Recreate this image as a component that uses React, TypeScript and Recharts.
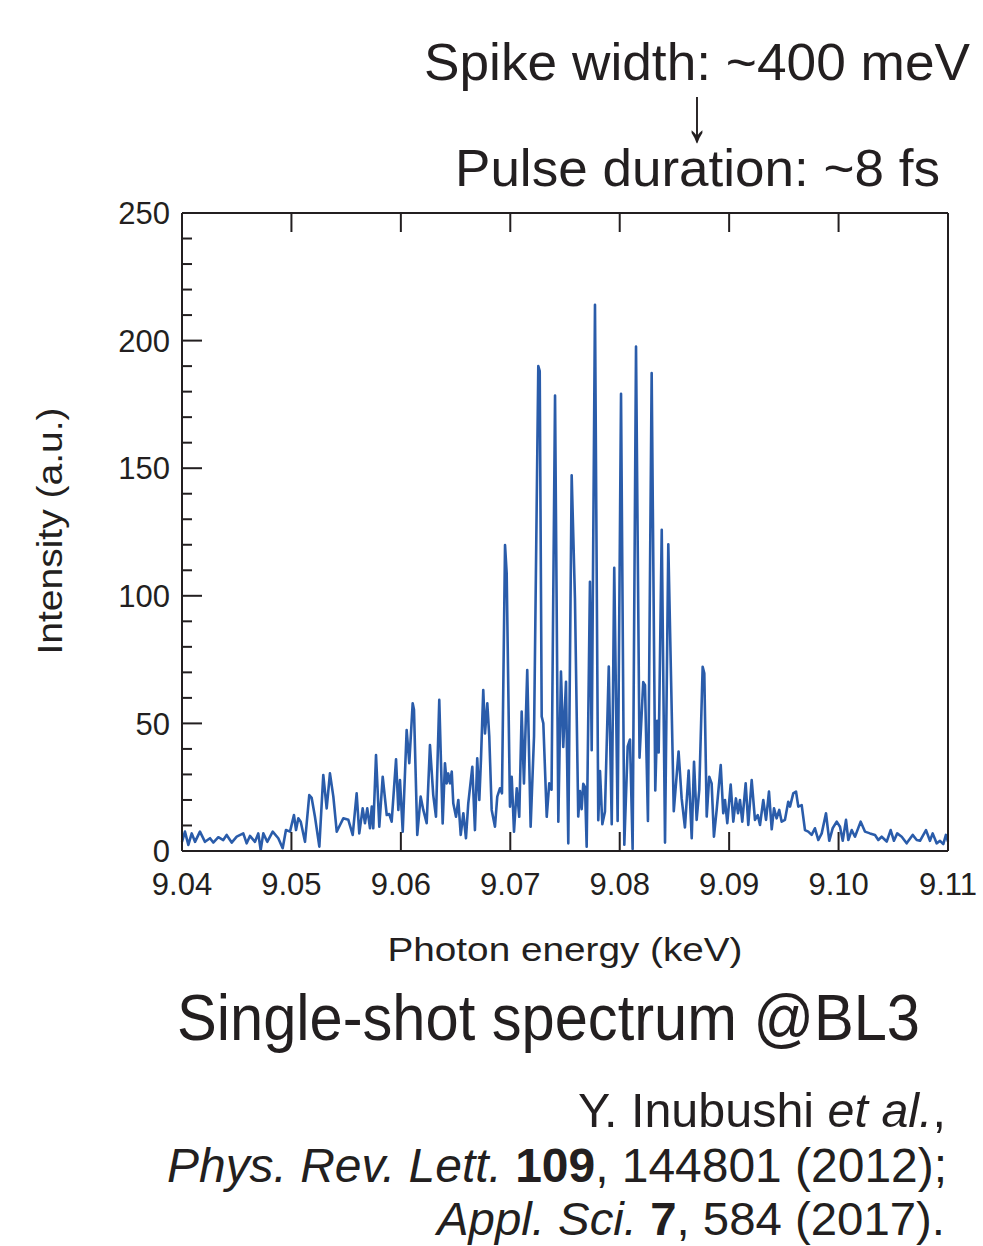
import { LineChart, Line, XAxis, YAxis } from 'recharts'

// single-shot spectrum, keV vs a.u.
const energy = [
  9.04, 9.04027, 9.04058, 9.04089, 9.04119, 9.04164, 9.0421, 9.04256, 9.04286, 9.04332,
  9.04377, 9.04408, 9.04454, 9.045, 9.0456, 9.04591, 9.04621, 9.04667, 9.04697, 9.04719,
  9.04743, 9.04779, 9.04829, 9.0488, 9.0492, 9.0495, 9.04987, 9.05023, 9.05042, 9.05063,
  9.05085, 9.05124, 9.05163, 9.05185, 9.05215, 9.05255, 9.05291, 9.05322, 9.05352, 9.05383,
  9.05414, 9.05444, 9.05474, 9.0552, 9.0556, 9.05596, 9.0562, 9.05651, 9.05672, 9.05693,
  9.05718, 9.05734, 9.05748, 9.05773, 9.05803, 9.05834, 9.05871, 9.05894, 9.05916, 9.05956,
  9.05977, 9.05992, 9.06017, 9.06053, 9.06077, 9.06108, 9.0612, 9.0615, 9.06181, 9.06205,
  9.06236, 9.06266, 9.06296, 9.06321, 9.06351, 9.06382, 9.06403, 9.06419, 9.06433, 9.06449,
  9.06465, 9.06479, 9.06504, 9.06525, 9.06547, 9.06571, 9.06595, 9.06616, 9.06653, 9.06677,
  9.06698, 9.06717, 9.06732, 9.06753, 9.06769, 9.0679, 9.06808, 9.0683, 9.0686, 9.06881,
  9.06906, 9.06924, 9.06952, 9.06967, 9.06997, 9.07013, 9.07034, 9.07059, 9.07082, 9.07104,
  9.07125, 9.07155, 9.07186, 9.07217, 9.07256, 9.07269, 9.07287, 9.07302, 9.07333, 9.07356,
  9.07377, 9.07409, 9.07439, 9.07463, 9.07484, 9.07509, 9.0753, 9.07561, 9.07591, 9.07621,
  9.07637, 9.07652, 9.07667, 9.07683, 9.07698, 9.07728, 9.07744, 9.07774, 9.07804, 9.0782,
  9.07841, 9.07865, 9.079, 9.07927, 9.0795, 9.07981, 9.08012, 9.08042, 9.08073, 9.08094,
  9.08118, 9.08149, 9.08181, 9.08215, 9.08231, 9.08258, 9.08292, 9.08325, 9.08342, 9.08356,
  9.08384, 9.08414, 9.08444, 9.08494, 9.08538, 9.08566, 9.08596, 9.0863, 9.08658, 9.08679,
  9.08703, 9.08727, 9.08758, 9.08773, 9.08795, 9.08818, 9.0884, 9.08861, 9.08886, 9.08923,
  9.08946, 9.08962, 9.08983, 9.09014, 9.09038, 9.09062, 9.09081, 9.09099, 9.0912, 9.09151,
  9.09175, 9.09206, 9.09236, 9.09261, 9.09282, 9.09312, 9.09337, 9.09364, 9.09389, 9.0941,
  9.09434, 9.09458, 9.0948, 9.0951, 9.0954, 9.09556, 9.09586, 9.09611, 9.09632, 9.09663,
  9.09693, 9.09723, 9.09754, 9.09784, 9.09815, 9.09846, 9.09885, 9.09915, 9.09946, 9.09983,
  9.10013, 9.10038, 9.10068, 9.10089, 9.1012, 9.1015, 9.10202, 9.10241, 9.10287, 9.10333,
  9.10363, 9.10394, 9.1044, 9.10476, 9.10506, 9.10536, 9.10577, 9.10622, 9.10677, 9.10714,
  9.10744, 9.10799, 9.10835, 9.1086, 9.10896, 9.10927, 9.10957, 9.10981, 9.11,
]

const intensity = [
  3.6, 7.6, 2.4, 6.9, 3.6, 7.6, 3.6, 5.0, 3.3, 5.4,
  4.3, 6.3, 3.3, 5.6, 6.9, 3.0, 5.9, 3.6, 6.9, 0.4,
  6.9, 3.6, 7.6, 5.0, 1.1, 8.2, 7.6, 14.1, 8.2, 12.8,
  11.5, 3.6, 21.9, 20.8, 13.4, 1.7, 29.8, 16.7, 30.4, 21.3,
  7.6, 10.2, 12.8, 12.2, 6.3, 22.6, 6.9, 16.7, 10.9, 16.7,
  8.9, 17.4, 8.9, 37.6, 9.5, 29.1, 14.1, 14.5, 11.5, 35.9,
  16.1, 27.8, 7.6, 47.4, 34.4, 57.9, 55.3, 6.3, 21.3, 16.1,
  10.9, 41.5, 21.9, 13.4, 59.2, 10.8, 34.4, 26.5, 30.4, 26.5,
  31.1, 18.7, 13.4, 20, 6.3, 14.8, 5, 18.7, 33, 8.2,
  36.3, 20, 35.7, 63.1, 46.1, 57.9, 44.8, 16.1, 9.5, 21.3,
  24.6, 22.6, 119.9, 108.8, 17.4, 29.1, 7.6, 24.6, 13.4, 54.6,
  26.5, 70.9, 9.5, 45, 190, 188, 52.7, 50, 13.4, 26.5,
  24, 178.5, 11.5, 70.3, 40.8, 66.3, 3.0, 147.2, 98.9, 13.5,
  23.5, 16.4, 26.3, 25, 1.7, 105.5, 39.5, 214, 12.1, 31.3,
  10.5, 15.4, 72.3, 10.5, 111, 11.8, 179.2, 2.5, 41, 43.7,
  0.8, 197.7, 36.6, 66.2, 65, 11.8, 187.3, 23.7, 51, 38.6,
  125.9, 3.3, 120.2, 15.6, 39, 20.6, 9.2, 31.5, 5, 35,
  12.2, 24, 72.2, 69.6, 13.5, 29.1, 26.5, 5.6, 16.1, 33.7,
  14.8, 20, 10.9, 26, 11.5, 20.6, 14.8, 20, 11.5, 26.5,
  10.2, 27.8, 12.2, 14.1, 10.2, 20, 12.2, 23.3, 8.5, 16.7,
  12.8, 16.1, 11.5, 12.2, 19.3, 17.4, 22.6, 23.3, 17.4, 18,
  8.2, 7.6, 6.3, 8.9, 4.3, 6.9, 14.8, 4.0, 8.9, 11.5,
  9.5, 4, 12.2, 4.3, 8.2, 5.6, 11.5, 7.6, 6.9, 6.3,
  4.3, 5.6, 3.7, 8.2, 4, 6.9, 5.6, 3, 6.3, 4.3,
  4, 8.2, 4, 6.9, 3, 4, 2.7, 6.3, 3.7,
]

const energyTicks = [9.04, 9.05, 9.06, 9.07, 9.08, 9.09, 9.1, 9.11]
const intensityTicks = [
  0, 10, 20, 30, 40, 50, 60, 70, 80, 90, 100, 110, 120, 130, 140, 150, 160, 170, 180,
  190, 200, 210, 220, 230, 240, 250,
]
const labelledEvery = 50

const data = energy.map((e, i) => ({ energy: e, intensity: intensity[i] }))

const INK = '#231f20'
const BLUE = '#2a5caa'
const FONT = '"Liberation Sans", Arial, Helvetica, sans-serif'

function LeftTick({ x, y, payload }: any) {
  const major = payload.value % labelledEvery === 0
  return (
    <g>
      <line x1={x} y1={y} x2={x + (major ? 20 : 10)} y2={y} stroke={INK} strokeWidth={2} />
      {major && (
        <text x={x - 12} y={y} dy="0.36em" textAnchor="end" fontSize={31} fill={INK} fontFamily={FONT}>
          {payload.value}
        </text>
      )}
    </g>
  )
}

function RightTick({ x, y, payload }: any) {
  const major = payload.value % labelledEvery === 0
  return <line x1={x - (major ? 20 : 10)} y1={y} x2={x} y2={y} stroke={INK} strokeWidth={2} />
}

function BottomTick({ x, y, payload }: any) {
  return (
    <g>
      <line x1={x} y1={y} x2={x} y2={y - 19} stroke={INK} strokeWidth={2} />
      <text x={x} y={y + 44} textAnchor="middle" fontSize={31} fill={INK} fontFamily={FONT}>
        {payload.value.toFixed(2)}
      </text>
    </g>
  )
}

function TopTick({ x, y }: any) {
  return <line x1={x} y1={y} x2={x} y2={y + 19} stroke={INK} strokeWidth={2} />
}

export default function App() {
  return (
    <div style={{ position: 'absolute', left: 0, top: 0, width: 983, height: 1246, background: '#fff' }}>
      <LineChart
        width={983}
        height={1246}
        data={data}
        margin={{ top: 212, right: 34, bottom: 365, left: 122 }}
      >
        <XAxis
          dataKey="energy"
          type="number"
          domain={[9.04, 9.11]}
          ticks={energyTicks}
          interval={0}
          height={30}
          tickSize={0}
          tickMargin={0}
          tickLine={false}
          tick={<BottomTick />}
          axisLine={{ stroke: INK, strokeWidth: 2 }}
        />
        <XAxis
          xAxisId="top"
          orientation="top"
          dataKey="energy"
          type="number"
          domain={[9.04, 9.11]}
          ticks={energyTicks}
          interval={0}
          height={1}
          tickSize={0}
          tickMargin={0}
          tickLine={false}
          tick={<TopTick />}
          axisLine={{ stroke: INK, strokeWidth: 2 }}
        />
        <YAxis
          type="number"
          domain={[0, 250]}
          ticks={intensityTicks}
          interval={0}
          width={60}
          tickSize={0}
          tickMargin={0}
          tickLine={false}
          tick={<LeftTick />}
          axisLine={{ stroke: INK, strokeWidth: 2 }}
        />
        <YAxis
          yAxisId="right"
          orientation="right"
          type="number"
          domain={[0, 250]}
          ticks={intensityTicks}
          interval={0}
          width={1}
          tickSize={0}
          tickMargin={0}
          tickLine={false}
          tick={<RightTick />}
          axisLine={{ stroke: INK, strokeWidth: 2 }}
        />
        <Line
          type="linear"
          dataKey="intensity"
          stroke={BLUE}
          strokeWidth={2.6}
          strokeLinejoin="round"
          dot={false}
          isAnimationActive={false}
        />
      </LineChart>

      <svg
        width={983}
        height={1246}
        style={{ position: 'absolute', left: 0, top: 0, pointerEvents: 'none' }}
        fontFamily={FONT}
        fill={INK}
      >
        <text x={424} y={80} fontSize={52} textLength={546} lengthAdjust="spacingAndGlyphs">
          Spike width: ~400 meV
        </text>
        <text transform="translate(697 141) scale(1 1.7)" fontSize={46} textAnchor="middle">
          ↓
        </text>
        <text x={455} y={186} fontSize={52} textLength={485} lengthAdjust="spacingAndGlyphs">
          Pulse duration: ~8 fs
        </text>

        <text
          transform="translate(62 531) rotate(-90)"
          textAnchor="middle"
          fontSize={35}
          textLength={247}
          lengthAdjust="spacingAndGlyphs"
        >
          Intensity (a.u.)
        </text>
        <text x={565} y={961} textAnchor="middle" fontSize={34} textLength={355} lengthAdjust="spacingAndGlyphs">
          Photon energy (keV)
        </text>

        <text x={177} y={1040} fontSize={64} textLength={743} lengthAdjust="spacingAndGlyphs">
          Single-shot spectrum @BL3
        </text>

        <text x={578} y={1127} fontSize={48} textLength={368} lengthAdjust="spacingAndGlyphs">
          Y. Inubushi <tspan fontStyle="italic">et al.</tspan>,
        </text>
        <text x={167} y={1182} fontSize={48} textLength={780} lengthAdjust="spacingAndGlyphs">
          <tspan fontStyle="italic">Phys. Rev. Lett.</tspan> <tspan fontWeight="bold">109</tspan>, 144801 (2012);
        </text>
        <text x={437} y={1235} fontSize={46} textLength={508} lengthAdjust="spacingAndGlyphs">
          <tspan fontStyle="italic">Appl. Sci.</tspan> <tspan fontWeight="bold">7</tspan>, 584 (2017).
        </text>
      </svg>
    </div>
  )
}
